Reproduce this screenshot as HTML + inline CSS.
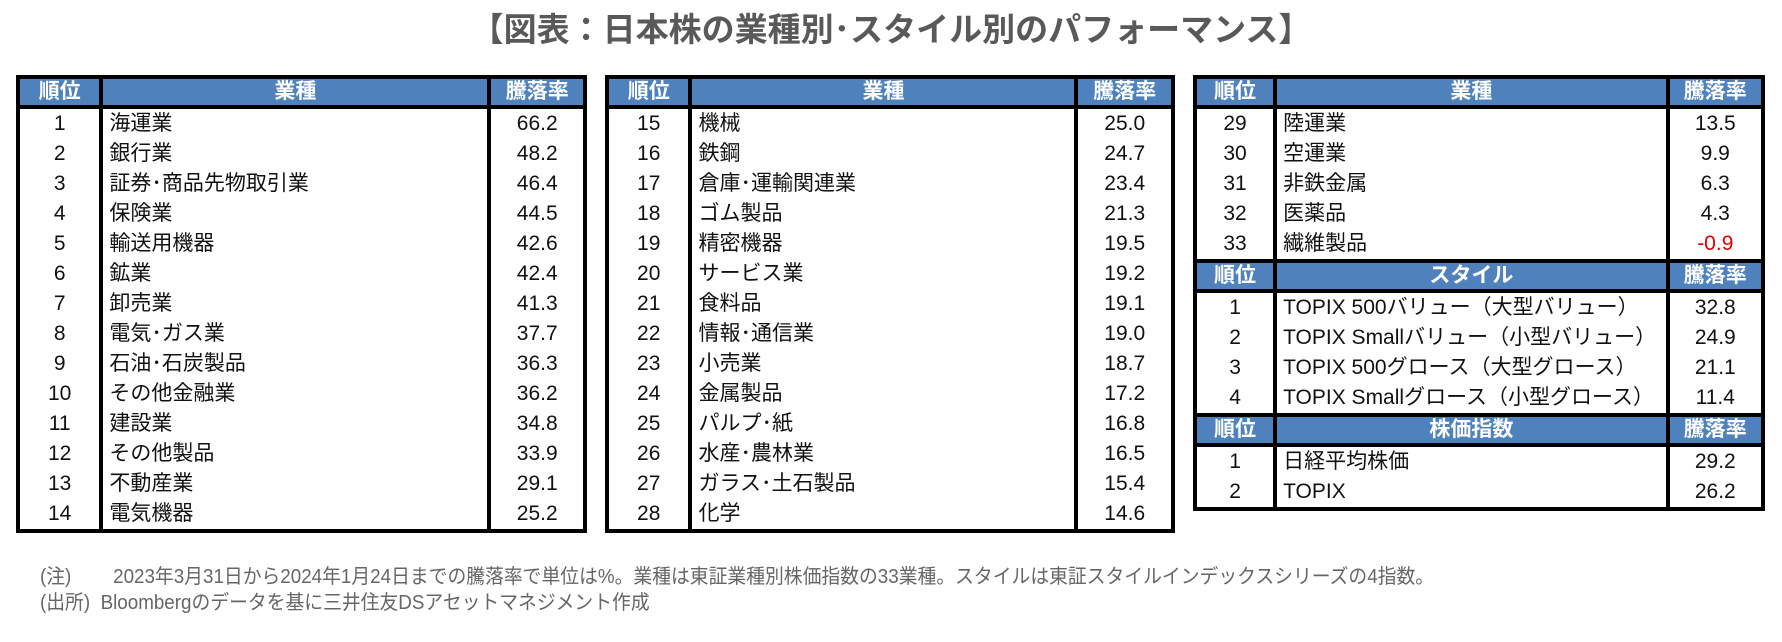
<!DOCTYPE html>
<html><head><meta charset="utf-8">
<style>
body{margin:0;width:1782px;height:642px;background:#fff;position:relative;overflow:hidden;font-family:"Liberation Sans","Noto Sans CJK JP",sans-serif;}
.title{position:absolute;left:0;top:3px;width:1782px;text-align:center;font-size:33px;font-weight:bold;color:#595959;}
table{position:absolute;top:75px;border-collapse:collapse;border:4px solid #000;font-size:21px;color:#111;}
td,th{height:30px;padding:0;line-height:30px;border-left:4px solid #000;border-right:4px solid #000;white-space:nowrap;}
th{background:#4F81BD;color:#fff;font-weight:bold;font-size:21px;border-bottom:4px solid #000;border-top:4px solid #000;height:26px;line-height:26px;}
td.r{text-align:center}
td.n{text-align:left;padding-left:6px}
td.v{text-align:center}
.neg{color:#e00000}
.note{position:absolute;left:40px;font-size:20px;color:#666;white-space:nowrap;transform:scaleX(0.94);transform-origin:0 0}
</style></head><body>
<div class="title">【図表：日本株の業種別･スタイル別のパフォーマンス】</div>

<table style="left:16px;width:571px">
<colgroup><col style="width:84px"><col style="width:391px"><col style="width:96px"></colgroup>
<tr><th>順位</th><th>業種</th><th>騰落率</th></tr>
<tr><td class="r">1</td><td class="n">海運業</td><td class="v">66.2</td></tr>
<tr><td class="r">2</td><td class="n">銀行業</td><td class="v">48.2</td></tr>
<tr><td class="r">3</td><td class="n">証券･商品先物取引業</td><td class="v">46.4</td></tr>
<tr><td class="r">4</td><td class="n">保険業</td><td class="v">44.5</td></tr>
<tr><td class="r">5</td><td class="n">輸送用機器</td><td class="v">42.6</td></tr>
<tr><td class="r">6</td><td class="n">鉱業</td><td class="v">42.4</td></tr>
<tr><td class="r">7</td><td class="n">卸売業</td><td class="v">41.3</td></tr>
<tr><td class="r">8</td><td class="n">電気･ガス業</td><td class="v">37.7</td></tr>
<tr><td class="r">9</td><td class="n">石油･石炭製品</td><td class="v">36.3</td></tr>
<tr><td class="r">10</td><td class="n">その他金融業</td><td class="v">36.2</td></tr>
<tr><td class="r">11</td><td class="n">建設業</td><td class="v">34.8</td></tr>
<tr><td class="r">12</td><td class="n">その他製品</td><td class="v">33.9</td></tr>
<tr><td class="r">13</td><td class="n">不動産業</td><td class="v">29.1</td></tr>
<tr><td class="r">14</td><td class="n">電気機器</td><td class="v">25.2</td></tr>
</table>

<table style="left:605px;width:570px">
<colgroup><col style="width:84px"><col style="width:389px"><col style="width:97px"></colgroup>
<tr><th>順位</th><th>業種</th><th>騰落率</th></tr>
<tr><td class="r">15</td><td class="n">機械</td><td class="v">25.0</td></tr>
<tr><td class="r">16</td><td class="n">鉄鋼</td><td class="v">24.7</td></tr>
<tr><td class="r">17</td><td class="n">倉庫･運輸関連業</td><td class="v">23.4</td></tr>
<tr><td class="r">18</td><td class="n">ゴム製品</td><td class="v">21.3</td></tr>
<tr><td class="r">19</td><td class="n">精密機器</td><td class="v">19.5</td></tr>
<tr><td class="r">20</td><td class="n">サービス業</td><td class="v">19.2</td></tr>
<tr><td class="r">21</td><td class="n">食料品</td><td class="v">19.1</td></tr>
<tr><td class="r">22</td><td class="n">情報･通信業</td><td class="v">19.0</td></tr>
<tr><td class="r">23</td><td class="n">小売業</td><td class="v">18.7</td></tr>
<tr><td class="r">24</td><td class="n">金属製品</td><td class="v">17.2</td></tr>
<tr><td class="r">25</td><td class="n">パルプ･紙</td><td class="v">16.8</td></tr>
<tr><td class="r">26</td><td class="n">水産･農林業</td><td class="v">16.5</td></tr>
<tr><td class="r">27</td><td class="n">ガラス･土石製品</td><td class="v">15.4</td></tr>
<tr><td class="r">28</td><td class="n">化学</td><td class="v">14.6</td></tr>
</table>

<table style="left:1193px;width:572px">
<colgroup><col style="width:82px"><col style="width:393px"><col style="width:97px"></colgroup>
<tr><th>順位</th><th>業種</th><th>騰落率</th></tr>
<tr><td class="r">29</td><td class="n">陸運業</td><td class="v">13.5</td></tr>
<tr><td class="r">30</td><td class="n">空運業</td><td class="v">9.9</td></tr>
<tr><td class="r">31</td><td class="n">非鉄金属</td><td class="v">6.3</td></tr>
<tr><td class="r">32</td><td class="n">医薬品</td><td class="v">4.3</td></tr>
<tr><td class="r">33</td><td class="n">繊維製品</td><td class="v neg">-0.9</td></tr>
<tr><th>順位</th><th>スタイル</th><th>騰落率</th></tr>
<tr><td class="r">1</td><td class="n">TOPIX 500バリュー（大型バリュー）</td><td class="v">32.8</td></tr>
<tr><td class="r">2</td><td class="n">TOPIX Smallバリュー（小型バリュー）</td><td class="v">24.9</td></tr>
<tr><td class="r">3</td><td class="n">TOPIX 500グロース（大型グロース）</td><td class="v">21.1</td></tr>
<tr><td class="r">4</td><td class="n">TOPIX Smallグロース（小型グロース）</td><td class="v">11.4</td></tr>
<tr><th>順位</th><th>株価指数</th><th>騰落率</th></tr>
<tr><td class="r">1</td><td class="n">日経平均株価</td><td class="v">29.2</td></tr>
<tr><td class="r">2</td><td class="n">TOPIX</td><td class="v">26.2</td></tr>
</table>

<div class="note" style="top:560px">(注)&nbsp;&nbsp;&nbsp;&nbsp;&nbsp;&nbsp;&nbsp;&nbsp;2023年3月31日から2024年1月24日までの騰落率で単位は%。業種は東証業種別株価指数の33業種。スタイルは東証スタイルインデックスシリーズの4指数。</div>
<div class="note" style="top:586px">(出所)&nbsp;&nbsp;Bloombergのデータを基に三井住友DSアセットマネジメント作成</div>
</body></html>
